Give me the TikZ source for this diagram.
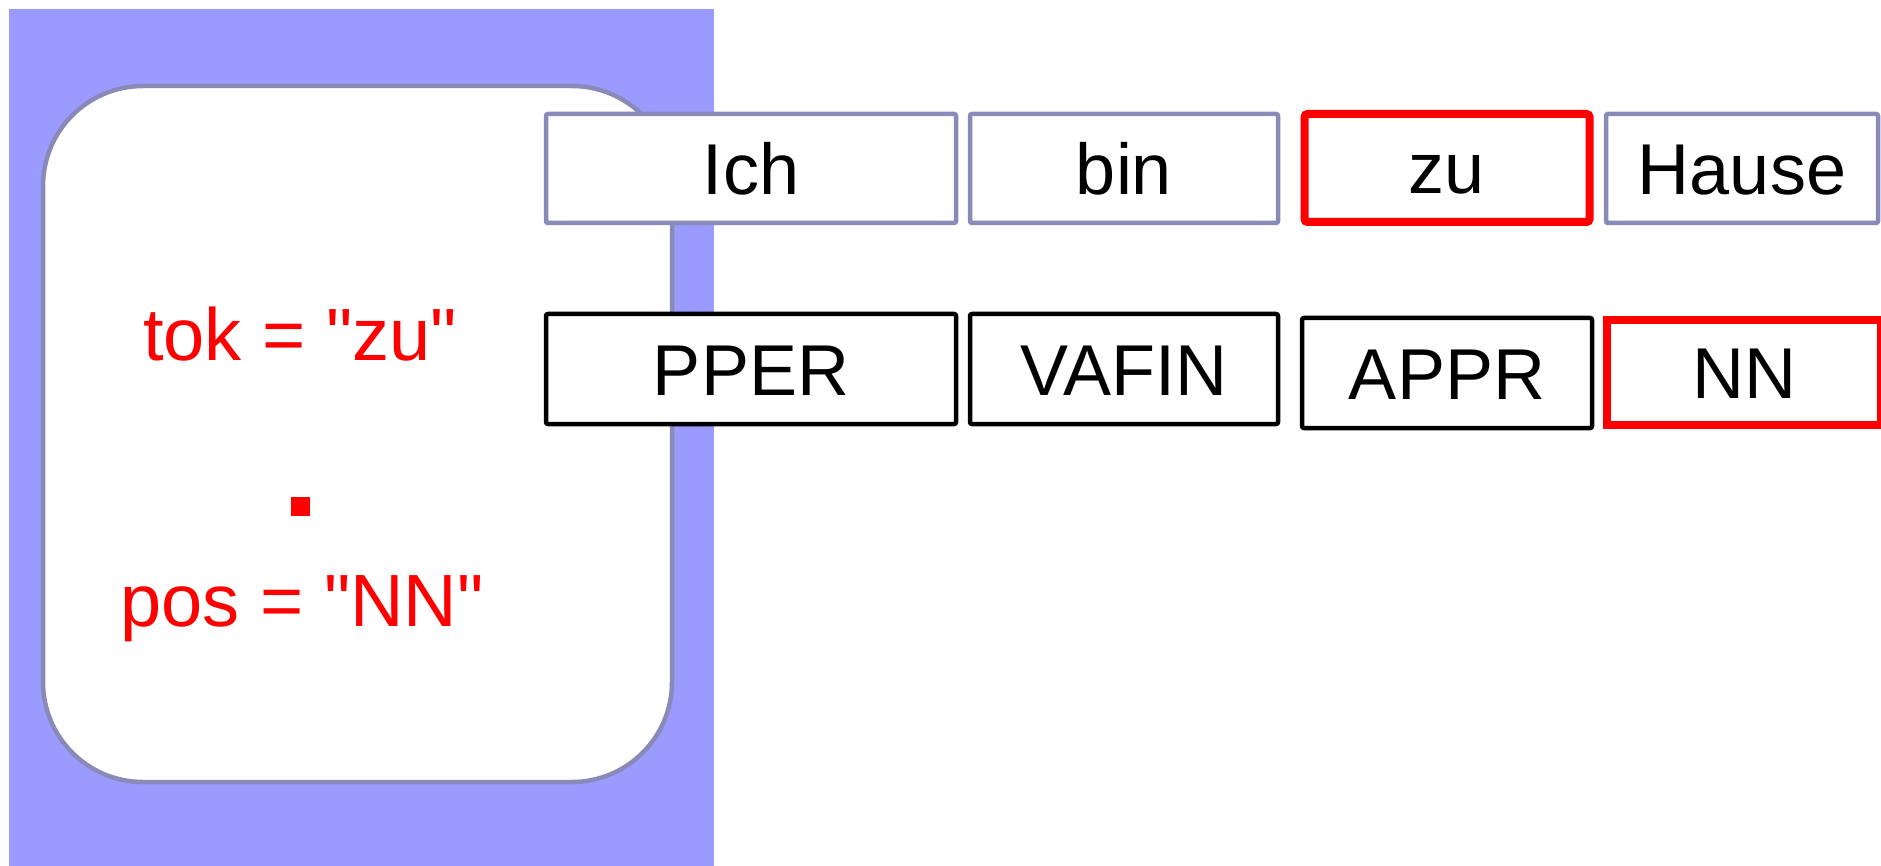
\documentclass[tikz,border=0pt]{standalone}
\usepackage{fontspec}
\newfontfamily\arialfont{Liberation Sans}
\definecolor{bluefill}{RGB}{155,155,255}
\definecolor{framecol}{RGB}{138,138,185}
\definecolor{pureRed}{RGB}{255,0,0}
\begin{document}
\begin{tikzpicture}[x=1pt,y=-1pt,
  lbl/.style={font=\arialfont\fontsize{72}{86}\selectfont, text height=52pt, text depth=0pt, inner sep=0pt},
  graybox/.style={lbl, draw=framecol, line width=4.5pt, fill=white, rounded corners=2pt},
  blackbox/.style={lbl, draw=black, line width=4.5pt, fill=white, rounded corners=2pt},
  redbox/.style={lbl, draw=pureRed, line width=8pt, fill=white, rounded corners=3pt},
  redtext/.style={font=\arialfont\fontsize{74}{88}\selectfont, text=pureRed, inner sep=0pt, anchor=base}
]
\useasboundingbox (0,0) rectangle (1881,866);
% background panel
\fill[bluefill] (9,9) rectangle (714,866);
\draw[framecol, line width=4.5pt, fill=white, rounded corners=100pt] (43,86) rectangle (672,782);
% tokens
\node[graybox, minimum width=410pt, minimum height=109pt] (ich) at (751,168.5) {Ich};
\node[graybox, minimum width=308pt, minimum height=109pt] (bin) at (1124,168.5) {bin};
\node[redbox, minimum width=285pt, minimum height=108pt] (zu) at (1447,168) {zu};
\node[graybox, minimum width=272pt, minimum height=109pt] (hause) at (1742,168.5) {Hause};
% pos tags
\node[blackbox, minimum width=410pt, minimum height=110pt] (pper) at (751,369) {PPER};
\node[blackbox, minimum width=308pt, minimum height=110pt] (vafin) at (1124,369) {VAFIN};
\node[blackbox, minimum width=290pt, minimum height=110pt] (appr) at (1447,373) {APPR};
\node[redbox, minimum width=274pt, minimum height=104pt, rounded corners=0pt] (nn) at (1744,372.5) {NN};
% query text
\node[redtext] (tok) at (300,360) {tok = "zu"};
\fill[pureRed] (291,497) rectangle (310,516);
\node[redtext] (pos) at (302,626) {pos = "NN"};
\end{tikzpicture}
\end{document}
